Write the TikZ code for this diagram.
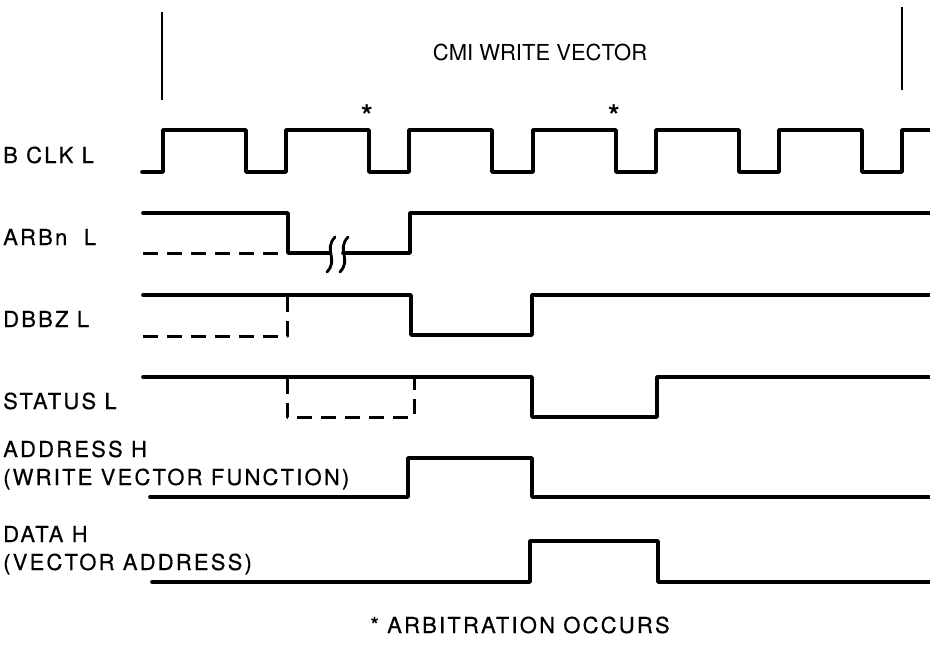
\documentclass[tikz,border=0pt]{standalone}
\usepackage{fontspec}
\setmainfont{TeX Gyre Heros}
\newfontfamily\sigfont[LetterSpace=10,FakeBold=0.4]{TeX Gyre Heros}
\usetikzlibrary{positioning}

\begin{document}
\begin{tikzpicture}[x=1pt, y=-1pt,
  wave/.style={line width=3.6pt, line join=round, line cap=round},
  ghost/.style={line width=3pt, dash pattern=on 15pt off 9pt, line join=round},
  marker/.style={line width=2.6pt},
  breakmark/.style={line width=2.8pt, line cap=round},
  siglabel/.style={anchor=base west, inner sep=0pt, font=\sigfont\fontsize{22}{26}\selectfont},
  star/.style={anchor=base, inner sep=0pt, font=\bfseries\fontsize{30}{30}\selectfont},
  titletext/.style={anchor=base, inner sep=0pt, font=\fontsize{22}{26}\selectfont}
]
\useasboundingbox[fill=white] (0,0) rectangle (930,646);

% Frame of the write vector cycle.
\coordinate (markLtop) at (162,12);
\coordinate (markLbot) at (162,100);
\coordinate (markRtop) at (902,7);
\coordinate (markRbot) at (902,90);
\draw[marker] (markLtop) -- (markLbot);
\draw[marker] (markRtop) -- (markRbot);
\node[titletext] (title) at (540,60) {CMI WRITE VECTOR};

% Signal names.
\node[siglabel] (bclk) at (3,163) {B CLK L};
\node[siglabel] (arbn) at (3,245) {ARBn~ L};
\node[siglabel] (dbbz) at (3,327) {DBBZ L};
\node[siglabel] (status) at (3,409) {STATUS L};
\node[siglabel] (addr) at (3,457) {ADDRESS H};
\node[siglabel] (addrfn) at (3,485) {(WRITE VECTOR FUNCTION)};
\node[siglabel] (data) at (3,542) {DATA H};
\node[siglabel] (datava) at (3,570) {(VECTOR ADDRESS)};

% Bus clock.
\draw[wave] (142,172)
  \foreach \r in {163,286,409,533,656,779} {
    -- (\r,172) -- (\r,130) -- (\r+83,130) -- (\r+83,172)
  } -- (902,172) -- (902,130) -- (930,130);
\node[star] (arb1) at (367,126) {*};
\node[star] (arb2) at (614,126) {*};

% ARBn L with time break.
\draw[wave] (143,213) -- (288,213) -- (288,253) -- (330,253);
\draw[wave] (343,253) -- (410,253) -- (410,213) -- (930,213);
\draw[ghost] (143,253) -- (280,253);
\foreach \b in {331,344}
  \draw[breakmark] (\b+4,237) .. controls (\b-8,250) and (\b+8,259) .. (\b-4,272);

% DBBZ L.
\draw[wave] (143,295) -- (411,295) -- (411,335) -- (532,335) -- (532,295) -- (930,295);
\draw[ghost] (143,336) -- (287,336) -- (287,297);

% STATUS L.
\draw[wave] (143,377) -- (532,377) -- (532,417) -- (657,417) -- (657,377) -- (930,377);
\draw[ghost] (287,379) -- (287,417) -- (414,417) -- (414,379);

% ADDRESS H and DATA H.
\draw[wave] (150,497) -- (408,497) -- (408,458) -- (532,458) -- (532,497) -- (930,497);
\draw[wave] (152,582) -- (530,582) -- (530,541) -- (658,541) -- (658,582) -- (930,582);

\node[siglabel, anchor=base] (note) at (520,633) {* ARBITRATION OCCURS};

\end{tikzpicture}
\end{document}
